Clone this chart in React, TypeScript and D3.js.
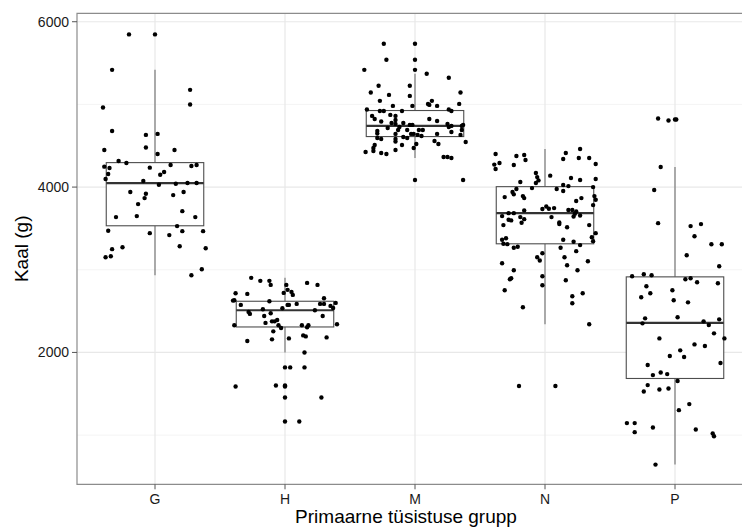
import { useEffect, useRef } from 'react';
import * as d3 from 'd3';

const groups = ['G', 'H', 'M', 'N', 'P'];

// box stats: [lower whisker, q1, median, q3, upper whisker]
const boxG = [2934, 3532, 4049, 4296, 5418];
const boxH = [2000, 2308, 2510, 2619, 2902];
const boxM = [4352, 4611, 4740, 4926, 5370];
const boxN = [2340, 3314, 3685, 4005, 4461];
const boxP = [643, 1685, 2357, 2914, 4243];

// jittered points: [offset in hundredths of a category, weight in g]
const ptsG = [
  [-20, 5847], [0, 5847], [-33, 5418], [27, 5176], [-40, 4962], [27, 4999], [-33, 4679], [-7, 4631],
  [2, 4643], [-39, 4449], [-7, 4478], [2, 4400], [15, 4449], [-28, 4315], [-22, 4291], [-39, 4247],
  [-35, 4231], [-36, 4158], [-38, 4097], [-4, 4235], [12, 4267], [7, 4182], [4, 4150], [28, 4255],
  [32, 4267], [-9, 4073], [3, 4029], [16, 4041], [25, 4049], [32, 4049], [-19, 3940], [-7, 3920],
  [-8, 3867], [14, 3903], [22, 3940], [-13, 3794], [21, 3709], [-30, 3637], [-14, 3649], [31, 3637],
  [17, 3528], [-36, 3472], [-4, 3443], [11, 3419], [21, 3467], [37, 3467], [-25, 3273], [-33, 3249],
  [-34, 3164], [-38, 3152], [19, 3285], [39, 3261], [36, 3006], [28, 2934],
];
const ptsH = [
  [-26, 2902], [-19, 2866], [-12, 2866], [-11, 2817], [1, 2817], [17, 2841], [25, 2817], [2, 2757],
  [-1, 2720], [5, 2732], [6, 2696], [-38, 2716], [-29, 2708], [-40, 2627], [-39, 2631], [-34, 2575],
  [-12, 2619], [30, 2655], [27, 2587], [30, 2587], [39, 2599], [2, 2575], [3, 2575], [9, 2587],
  [35, 2563], [37, 2538], [-17, 2522], [-28, 2490], [-27, 2466], [-11, 2474], [-2, 2534], [23, 2510],
  [-16, 2441], [29, 2441], [-6, 2393], [-10, 2376], [-8, 2376], [-15, 2357], [-5, 2328], [-39, 2328],
  [-3, 2296], [13, 2328], [18, 2328], [17, 2304], [40, 2340], [-9, 2255], [14, 2206], [16, 2194],
  [-10, 2158], [3, 2170], [32, 2182], [-29, 2139], [15, 2000], [0, 1819], [4, 1819], [15, 1819],
  [-38, 1588], [-7, 1600], [0, 1600], [0, 1588], [0, 1455], [28, 1455], [0, 1164], [11, 1164],
];
const ptsM = [
  [-24, 5733], [0, 5733], [-22, 5540], [0, 5540], [-39, 5418], [0, 5418], [9, 5370], [26, 5322],
  [-28, 5225], [-4, 5225], [-34, 5144], [-20, 5115], [-4, 5103], [35, 5144], [-27, 5043], [10, 5006],
  [13, 5043], [11, 4994], [17, 4982], [34, 5006], [-17, 4982], [-2, 4982], [-37, 4938], [-27, 4921],
  [-24, 4921], [-10, 4921], [26, 4938], [28, 4921], [-33, 4861], [-19, 4873], [-15, 4861], [-31, 4824],
  [-26, 4793], [-15, 4812], [11, 4824], [17, 4800], [-18, 4776], [-15, 4764], [-9, 4776], [-12, 4727],
  [-4, 4752], [-2, 4752], [25, 4764], [26, 4727], [28, 4740], [36, 4740], [37, 4752], [-21, 4715],
  [-13, 4691], [-6, 4691], [3, 4691], [6, 4691], [-29, 4679], [-29, 4647], [-15, 4643], [-3, 4643],
  [-1, 4643], [2, 4631], [5, 4618], [17, 4643], [28, 4667], [36, 4691], [35, 4631], [-9, 4606],
  [-6, 4594], [-29, 4594], [-26, 4582], [-15, 4582], [15, 4558], [-15, 4550], [18, 4521], [39, 4546],
  [-31, 4509], [-10, 4509], [1, 4521], [-32, 4473], [-1, 4473], [-15, 4449], [-38, 4424], [-32, 4437],
  [-26, 4412], [-22, 4400], [22, 4364], [25, 4364], [28, 4352], [0, 4085], [37, 4085],
];
const ptsN = [
  [27, 4461], [-38, 4400], [-22, 4376], [-16, 4388], [-15, 4327], [16, 4412], [14, 4340], [26, 4352],
  [34, 4352], [-39, 4272], [-35, 4291], [-38, 4218], [-24, 4267], [39, 4279], [-7, 4170], [-6, 4121],
  [-5, 4081], [-7, 4049], [4, 4138], [20, 4109], [27, 4085], [39, 4097], [-19, 4061], [-10, 3988],
  [-22, 3976], [-25, 3940], [-24, 3912], [-31, 3879], [-17, 3891], [-16, 3867], [14, 4025], [18, 4012],
  [14, 3952], [9, 3976], [37, 4000], [38, 3891], [39, 3847], [28, 3867], [24, 3831], [37, 3782],
  [-2, 3734], [1, 3766], [3, 3738], [7, 3746], [-16, 3718], [18, 3722], [21, 3722], [24, 3706],
  [23, 3678], [27, 3657], [22, 3645], [-28, 3685], [-24, 3685], [-33, 3649], [-19, 3637], [-16, 3612],
  [-28, 3605], [-26, 3597], [-18, 3569], [5, 3637], [11, 3572], [11, 3552], [-32, 3540], [34, 3540],
  [17, 3515], [39, 3443], [36, 3394], [37, 3346], [-33, 3363], [-30, 3382], [-32, 3314], [-29, 3310],
  [14, 3363], [22, 3338], [27, 3298], [-24, 3266], [-21, 3278], [-2, 3200], [12, 3266], [24, 3225],
  [-6, 3152], [-4, 3112], [15, 3152], [-33, 3079], [17, 3055], [33, 3103], [-24, 2994], [25, 2994],
  [-26, 2897], [-27, 2885], [-2, 2922], [-2, 2812], [16, 2873], [-31, 2752], [29, 2716], [21, 2679],
  [21, 2594], [-17, 2546], [34, 2340], [-20, 1594], [8, 1594],
];
const ptsP = [
  [-13, 4829], [-5, 4805], [0, 4817], [1, 4817], [-11, 4243], [-16, 3964], [-13, 3564], [12, 3528],
  [20, 3552], [15, 3406], [28, 3309], [36, 3309], [9, 3176], [34, 3043], [-33, 2922], [-24, 2946],
  [-18, 2934], [8, 2885], [12, 2897], [17, 2849], [33, 2837], [-22, 2800], [-2, 2752], [-19, 2716],
  [-26, 2667], [-1, 2631], [10, 2606], [-23, 2412], [2, 2425], [-25, 2352], [22, 2376], [26, 2332],
  [34, 2400], [30, 2231], [38, 2170], [-12, 2170], [15, 2097], [23, 2078], [4, 2025], [-4, 1957],
  [7, 1945], [35, 1872], [-21, 1848], [-17, 1726], [-11, 1758], [-6, 1738], [2, 1654], [-21, 1605],
  [-24, 1528], [-12, 1552], [-5, 1564], [11, 1375], [3, 1302], [-37, 1145], [-31, 1145], [-31, 1036],
  [-17, 1092], [16, 1067], [29, 1019], [30, 987], [-15, 643],
];

const boxes = [boxG, boxH, boxM, boxN, boxP];
const points = [ptsG, ptsH, ptsM, ptsN, ptsP];

const yMajor = [2000, 4000, 6000];
const yMinor = [1000, 3000, 5000];

const FONT = '"Liberation Sans", Arial, Helvetica, sans-serif';

export default function App() {
  const svgRef = useRef<SVGSVGElement>(null);

  useEffect(() => {
    const width = 742;
    const height = 527;
    const panel = { left: 77, right: 753, top: 13.3, bottom: 484.3 };

    const svg = d3.select(svgRef.current);
    svg.selectAll('*').remove();

    const x = d3.scalePoint<string>().domain(groups).range([155, 675]);
    const step = x.step();
    const y = d3.scaleLinear().domain([405, 6102]).range([panel.bottom, panel.top]);

    svg.attr('width', width).attr('height', height);
    svg.append('rect').attr('width', width).attr('height', height).attr('fill', '#fff');

    const grid = svg.append('g');
    grid
      .selectAll('line.minor')
      .data(yMinor)
      .enter()
      .append('line')
      .attr('x1', panel.left)
      .attr('x2', panel.right)
      .attr('y1', d => y(d))
      .attr('y2', d => y(d))
      .attr('stroke', '#f4f4f4')
      .attr('stroke-width', 1);
    grid
      .selectAll('line.major')
      .data(yMajor)
      .enter()
      .append('line')
      .attr('x1', panel.left)
      .attr('x2', panel.right)
      .attr('y1', d => y(d))
      .attr('y2', d => y(d))
      .attr('stroke', '#e8e8e8')
      .attr('stroke-width', 1.2);
    grid
      .selectAll('line.vmajor')
      .data(groups)
      .enter()
      .append('line')
      .attr('x1', d => x(d)!)
      .attr('x2', d => x(d)!)
      .attr('y1', panel.top)
      .attr('y2', panel.bottom)
      .attr('stroke', '#e8e8e8')
      .attr('stroke-width', 1.2);

    // boxplots
    const bw = step * 0.75;
    const bx = svg
      .selectAll('g.box')
      .data(boxes)
      .enter()
      .append('g')
      .attr('class', 'box');

    bx.append('line')
      .attr('x1', (_, i) => x(groups[i])!)
      .attr('x2', (_, i) => x(groups[i])!)
      .attr('y1', d => y(d[3]))
      .attr('y2', d => y(d[4]))
      .attr('stroke', '#6e6e6e')
      .attr('stroke-width', 1.1);
    bx.append('line')
      .attr('x1', (_, i) => x(groups[i])!)
      .attr('x2', (_, i) => x(groups[i])!)
      .attr('y1', d => y(d[0]))
      .attr('y2', d => y(d[1]))
      .attr('stroke', '#6e6e6e')
      .attr('stroke-width', 1.1);
    bx.append('rect')
      .attr('x', (_, i) => x(groups[i])! - bw / 2)
      .attr('width', bw)
      .attr('y', d => y(d[3]))
      .attr('height', d => y(d[1]) - y(d[3]))
      .attr('fill', '#fff')
      .attr('stroke', '#4d4d4d')
      .attr('stroke-width', 1.1);
    bx.append('line')
      .attr('x1', (_, i) => x(groups[i])! - bw / 2)
      .attr('x2', (_, i) => x(groups[i])! + bw / 2)
      .attr('y1', d => y(d[2]))
      .attr('y2', d => y(d[2]))
      .attr('stroke', '#333')
      .attr('stroke-width', 2.2);

    // jittered points
    groups.forEach((g, i) => {
      svg
        .append('g')
        .selectAll('circle')
        .data(points[i])
        .enter()
        .append('circle')
        .attr('cx', d => x(g)! + (d[0] / 100) * step)
        .attr('cy', d => y(d[1]))
        .attr('r', 2.2)
        .attr('fill', '#000');
    });

    // panel border (left, top, bottom)
    svg
      .append('path')
      .attr('d', `M${panel.right},${panel.top}H${panel.left}V${panel.bottom}H${panel.right}`)
      .attr('fill', 'none')
      .attr('stroke', '#8c8c8c')
      .attr('stroke-width', 1.2);

    // y axis
    const yAxis = svg.append('g');
    yAxis
      .selectAll('line')
      .data(yMajor)
      .enter()
      .append('line')
      .attr('x1', panel.left - 5)
      .attr('x2', panel.left)
      .attr('y1', d => y(d))
      .attr('y2', d => y(d))
      .attr('stroke', '#555');
    yAxis
      .selectAll('text')
      .data(yMajor)
      .enter()
      .append('text')
      .attr('x', panel.left - 8)
      .attr('y', d => y(d))
      .attr('dy', '0.35em')
      .attr('text-anchor', 'end')
      .style('font-family', FONT)
      .style('font-size', '14px')
      .attr('fill', '#1a1a1a')
      .text(d => d);

    // x axis
    const xAxis = svg.append('g');
    xAxis
      .selectAll('line')
      .data(groups)
      .enter()
      .append('line')
      .attr('x1', d => x(d)!)
      .attr('x2', d => x(d)!)
      .attr('y1', panel.bottom)
      .attr('y2', panel.bottom + 5)
      .attr('stroke', '#555');
    xAxis
      .selectAll('text')
      .data(groups)
      .enter()
      .append('text')
      .attr('x', d => x(d)!)
      .attr('y', panel.bottom + 20)
      .attr('text-anchor', 'middle')
      .style('font-family', FONT)
      .style('font-size', '14px')
      .attr('fill', '#1a1a1a')
      .text(d => d);

    svg
      .append('text')
      .attr('x', 406)
      .attr('y', 523)
      .attr('text-anchor', 'middle')
      .style('font-family', FONT)
      .style('font-size', '19px')
      .text('Primaarne tüsistuse grupp');

    svg
      .append('text')
      .attr('transform', `translate(28, ${(panel.top + panel.bottom) / 2}) rotate(-90)`)
      .attr('text-anchor', 'middle')
      .style('font-family', FONT)
      .style('font-size', '19px')
      .text('Kaal (g)');
  }, []);

  return (
    <svg
      ref={svgRef}
      style={{ position: 'absolute', left: 0, top: 0, display: 'block' }}
    />
  );
}
